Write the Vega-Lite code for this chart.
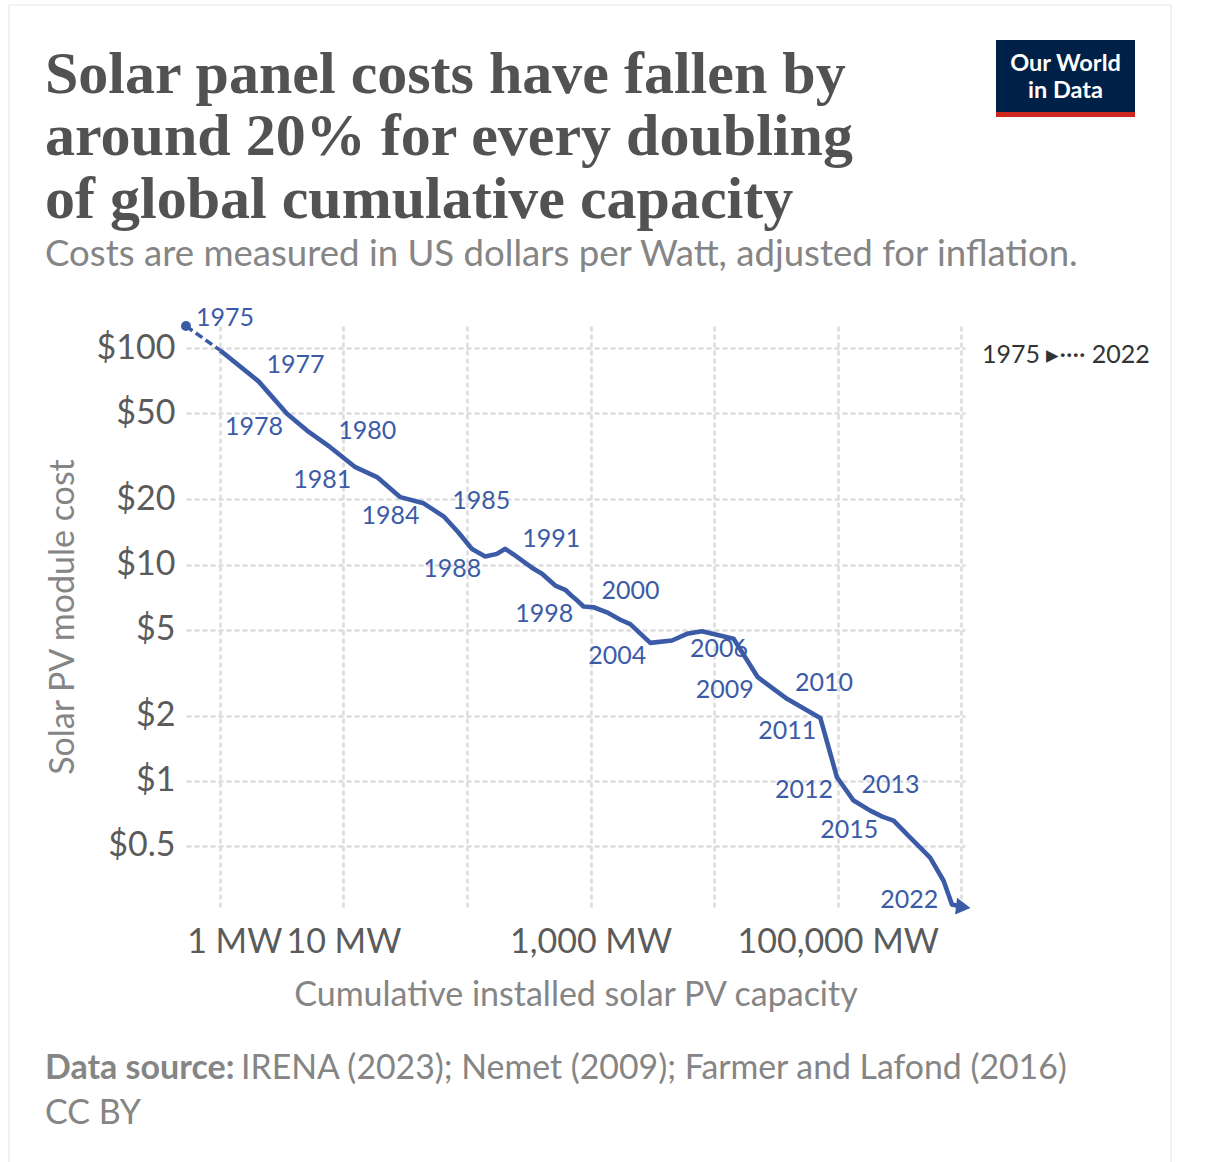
{
  "$schema": "https://vega.github.io/schema/vega-lite/v6.json",
  "width": 779,
  "height": 581,
  "autosize": {"type": "none"},
  "padding": {"left": 186, "top": 326, "right": 241, "bottom": 255},
  "background": "#ffffff",
  "title": {
    "text": ["Solar panel costs have fallen by", "around 20% for every doubling", "of global cumulative capacity"],
    "subtitle": "Costs are measured in US dollars per Watt, adjusted for inflation.",
    "anchor": "start",
    "frame": "group",
    "dx": -141,
    "dy": 270,
    "offset": 0,
    "font": "Liberation Serif",
    "fontSize": 60,
    "fontWeight": "bold",
    "color": "#525252",
    "lineHeight": 62.5,
    "subtitleFont": "Lato",
    "subtitleFontSize": 36.6,
    "subtitleColor": "#858585",
    "subtitlePadding": 6
  },
  "data": {
    "values": [
      {"year": 1975, "capacity": 0.533, "cost": 126.9},
      {"year": 1976, "capacity": 1.01, "cost": 97.9},
      {"year": 1977, "capacity": 2.06, "cost": 70.4},
      {"year": 1978, "capacity": 3.5, "cost": 49.9},
      {"year": 1979, "capacity": 5.08, "cost": 41.7},
      {"year": 1980, "capacity": 7.83, "cost": 34.9},
      {"year": 1981, "capacity": 12.5, "cost": 28.2},
      {"year": 1982, "capacity": 18.7, "cost": 25.4},
      {"year": 1983, "capacity": 28.9, "cost": 20.5},
      {"year": 1984, "capacity": 44.6, "cost": 19.2},
      {"year": 1985, "capacity": 65.5, "cost": 16.6},
      {"year": 1986, "capacity": 85.0, "cost": 14.1},
      {"year": 1987, "capacity": 109.8, "cost": 11.8},
      {"year": 1988, "capacity": 140.6, "cost": 10.9},
      {"year": 1989, "capacity": 174.8, "cost": 11.2},
      {"year": 1990, "capacity": 204.1, "cost": 11.82},
      {"year": 1991, "capacity": 241.3, "cost": 11.07},
      {"year": 1992, "capacity": 290.8, "cost": 10.27},
      {"year": 1993, "capacity": 345.8, "cost": 9.55},
      {"year": 1994, "capacity": 404.5, "cost": 9.06},
      {"year": 1995, "capacity": 518.1, "cost": 7.99},
      {"year": 1996, "capacity": 624.2, "cost": 7.64},
      {"year": 1997, "capacity": 698.2, "cost": 7.19},
      {"year": 1998, "capacity": 780.5, "cost": 6.81},
      {"year": 1999, "capacity": 877.6, "cost": 6.39},
      {"year": 2000, "capacity": 1057.6, "cost": 6.34},
      {"year": 2001, "capacity": 1357, "cost": 6.01},
      {"year": 2002, "capacity": 1739, "cost": 5.55},
      {"year": 2003, "capacity": 2095, "cost": 5.3},
      {"year": 2004, "capacity": 3041, "cost": 4.34},
      {"year": 2005, "capacity": 4556, "cost": 4.45},
      {"year": 2006, "capacity": 6026, "cost": 4.78},
      {"year": 2007, "capacity": 7967, "cost": 4.91},
      {"year": 2008, "capacity": 14355, "cost": 4.53},
      {"year": 2009, "capacity": 22535, "cost": 3.01},
      {"year": 2010, "capacity": 38815, "cost": 2.39},
      {"year": 2011, "capacity": 72192, "cost": 1.95},
      {"year": 2012, "capacity": 98514, "cost": 1.036},
      {"year": 2013, "capacity": 134220, "cost": 0.808},
      {"year": 2014, "capacity": 183200, "cost": 0.726},
      {"year": 2015, "capacity": 229100, "cost": 0.681},
      {"year": 2016, "capacity": 282800, "cost": 0.653},
      {"year": 2017, "capacity": 378900, "cost": 0.55},
      {"year": 2018, "capacity": 465100, "cost": 0.49},
      {"year": 2019, "capacity": 560300, "cost": 0.439},
      {"year": 2020, "capacity": 717800, "cost": 0.344},
      {"year": 2021, "capacity": 839500, "cost": 0.267},
      {"year": 2022, "capacity": 1036000, "cost": 0.26}
    ]
  },
  "encoding": {
    "x": {
      "field": "capacity",
      "type": "quantitative",
      "scale": {"type": "log", "domain": [0.533, 1070000], "nice": false},
      "axis": {
        "values": [1, 10, 100, 1000, 10000, 100000, 1000000],
        "labelExpr": "datum.value == 1 ? '1 MW' : datum.value == 10 ? '10 MW' : datum.value == 1000 ? '1,000 MW' : datum.value == 100000 ? '100,000 MW' : ''",
        "labelOverlap": false,
        "labelLimit": 400,
        "labelOffset": {"condition": {"test": "datum.value == 1", "value": 14.5}, "value": 0},
        "labelPadding": 18,
        "title": "Cumulative installed solar PV capacity",
        "titlePadding": 19
      }
    },
    "y": {
      "field": "cost",
      "type": "quantitative",
      "scale": {"type": "log", "domain": [0.26, 127], "nice": false},
      "axis": {
        "values": [0.5, 1, 2, 5, 10, 20, 50, 100],
        "labelExpr": "'$' + datum.value",
        "labelOverlap": false,
        "labelPadding": 11,
        "title": "Solar PV module cost",
        "titlePadding": 16
      }
    }
  },
  "layer": [
    {
      "description": "dashed start 1975-1976",
      "transform": [{"filter": "datum.year <= 1976"}],
      "mark": {"type": "line", "color": "#3c5ba7", "strokeWidth": 3.5, "strokeDash": [8, 4]},
      "encoding": {"order": {"field": "year"}}
    },
    {
      "description": "main line",
      "transform": [{"filter": "datum.year >= 1976"}],
      "mark": {"type": "line", "color": "#3c5ba7", "strokeWidth": 4.6, "strokeJoin": "round"},
      "encoding": {"order": {"field": "year"}}
    },
    {
      "transform": [{"filter": "datum.year == 1975"}],
      "mark": {"type": "point", "filled": true, "opacity": 1, "color": "#3c5ba7", "size": 100}
    },
    {
      "transform": [{"filter": "datum.year == 2022"}],
      "mark": {"type": "point", "shape": "triangle-right", "filled": true, "opacity": 1, "color": "#3c5ba7", "size": 280, "angle": 7}
    },
    {
      "description": "labels above right",
      "transform": [{"filter": "indexof([1977, 1980, 1985, 1991, 2000, 2010, 2013], datum.year) >= 0"}],
      "mark": {"type": "text", "align": "left", "baseline": "middle", "dx": 8, "dy": -16, "font": "Lato", "fontSize": 25, "color": "#3c5ba7"},
      "encoding": {"text": {"field": "year", "type": "ordinal"}}
    },
    {
      "description": "labels below left",
      "transform": [{"filter": "indexof([1978, 1981, 1984, 1988, 1998, 2004, 2009, 2011, 2012, 2015], datum.year) >= 0"}],
      "mark": {"type": "text", "align": "right", "baseline": "middle", "dx": -4, "dy": 13, "font": "Lato", "fontSize": 25, "color": "#3c5ba7"},
      "encoding": {"text": {"field": "year", "type": "ordinal"}}
    },
    {
      "transform": [{"filter": "datum.year == 1975"}],
      "mark": {"type": "text", "align": "left", "baseline": "middle", "dx": 10, "dy": -8, "font": "Lato", "fontSize": 25, "color": "#3c5ba7"},
      "encoding": {"text": {"field": "year", "type": "ordinal"}}
    },
    {
      "transform": [{"filter": "datum.year == 2006"}],
      "mark": {"type": "text", "align": "left", "baseline": "middle", "dx": 3, "dy": 15, "font": "Lato", "fontSize": 25, "color": "#3c5ba7"},
      "encoding": {"text": {"field": "year", "type": "ordinal"}}
    },
    {
      "transform": [{"filter": "datum.year == 2022"}],
      "mark": {"type": "text", "align": "right", "baseline": "middle", "dx": -25, "dy": -7, "font": "Lato", "fontSize": 25, "color": "#3c5ba7"},
      "encoding": {"text": {"field": "year", "type": "ordinal"}}
    },
    {
      "description": "timeline legend",
      "data": {"values": [{}]},
      "mark": {"type": "text", "text": "1975 \u25b8\u2219\u2219\u2219\u2219 2022", "align": "left", "baseline": "alphabetic", "font": "Lato", "fontSize": 25, "color": "#333333"},
      "encoding": {"x": {"value": 796}, "y": {"value": 37}}
    },
    {
      "description": "outer frame",
      "data": {"values": [{}]},
      "mark": {"type": "rect", "fill": null, "stroke": "#e6e6ea", "strokeWidth": 1},
      "encoding": {"x": {"value": -177}, "x2": {"value": 985}, "y": {"value": -321}, "y2": {"value": 860}}
    },
    {
      "description": "logo box",
      "data": {"values": [{}]},
      "mark": {"type": "rect", "fill": "#002147"},
      "encoding": {"x": {"value": 810}, "x2": {"value": 949}, "y": {"value": -286}, "y2": {"value": -214}}
    },
    {
      "data": {"values": [{}]},
      "mark": {"type": "rect", "fill": "#ce261e"},
      "encoding": {"x": {"value": 810}, "x2": {"value": 949}, "y": {"value": -214}, "y2": {"value": -209}}
    },
    {
      "data": {"values": [{}]},
      "mark": {"type": "text", "text": "Our World", "align": "center", "baseline": "alphabetic", "font": "Lato", "fontSize": 23.5, "fontWeight": "bold", "color": "#ffffff"},
      "encoding": {"x": {"value": 879.5}, "y": {"value": -255}}
    },
    {
      "data": {"values": [{}]},
      "mark": {"type": "text", "text": "in Data", "align": "center", "baseline": "alphabetic", "font": "Lato", "fontSize": 23.5, "fontWeight": "bold", "color": "#ffffff"},
      "encoding": {"x": {"value": 879.5}, "y": {"value": -228}}
    },
    {
      "description": "footer",
      "data": {"values": [{}]},
      "mark": {"type": "text", "text": "Data source:", "align": "left", "baseline": "alphabetic", "font": "Lato", "fontSize": 34, "fontWeight": "bold", "color": "#858585"},
      "encoding": {"x": {"value": -141}, "y": {"value": 753}}
    },
    {
      "data": {"values": [{}]},
      "mark": {"type": "text", "text": "IRENA (2023); Nemet (2009); Farmer and Lafond (2016)", "align": "left", "baseline": "alphabetic", "font": "Lato", "fontSize": 33.8, "color": "#858585"},
      "encoding": {"x": {"value": 55}, "y": {"value": 753}}
    },
    {
      "data": {"values": [{}]},
      "mark": {"type": "text", "text": "CC BY", "align": "left", "baseline": "alphabetic", "font": "Lato", "fontSize": 34, "color": "#858585"},
      "encoding": {"x": {"value": -141}, "y": {"value": 798}}
    }
  ],
  "config": {
    "font": "Lato",
    "view": {"stroke": null},
    "axis": {
      "grid": true,
      "gridColor": "#dcdcdc",
      "gridDash": [5, 3],
      "gridWidth": 2.5,
      "ticks": false,
      "domain": false,
      "labelFont": "Lato",
      "labelFontSize": 34,
      "labelColor": "#5b5b5b",
      "titleFont": "Lato",
      "titleFontSize": 34,
      "titleFontWeight": "normal",
      "titleColor": "#858585"
    }
  }
}
